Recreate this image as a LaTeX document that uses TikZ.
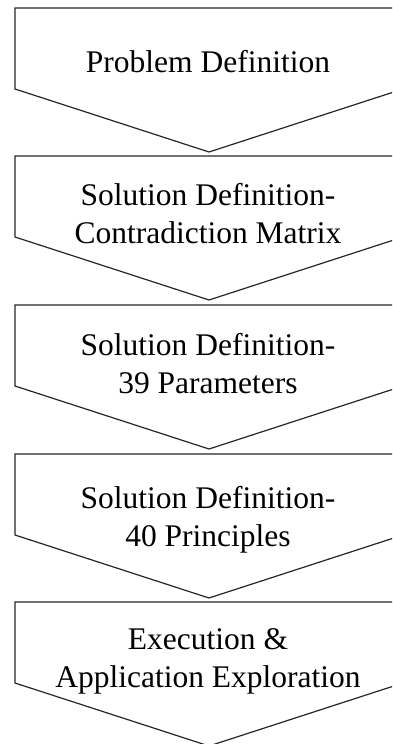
\documentclass[tikz,border=0pt]{standalone}
\usepackage{fontspec}
\setmainfont{Liberation Serif}
\usetikzlibrary{positioning}

\tikzset{
  chevron/.style={draw=black!85,line width=1.2pt,line join=miter},
  steptext/.style={font=\fontsize{31.5}{37.5}\selectfont,align=center,inner sep=0pt,anchor=base}
}

\begin{document}
\begin{tikzpicture}[x=1pt,y=-1pt]
  \clip (0,0) rectangle (392,744);
  % chevron outlines (right side runs off the page)
  \draw[chevron] (15,8) -- (403,8) -- (403,89) -- (209,152) -- (15,89) -- cycle;
  \draw[chevron] (15,156) -- (403,156) -- (403,237) -- (209,300) -- (15,237) -- cycle;
  \draw[chevron] (15,305) -- (403,305) -- (403,386) -- (209,449) -- (15,386) -- cycle;
  \draw[chevron] (15,454) -- (403,454) -- (403,535) -- (209,598) -- (15,535) -- cycle;
  \draw[chevron] (15,602) -- (403,602) -- (403,683) -- (209,746) -- (15,683) -- cycle;
  % step labels (base = last line)
  \node[steptext] (problem) at (208,72) {Problem Definition};
  \node[steptext] (matrix) at (208,243) {Solution Definition-\\Contradiction Matrix};
  \node[steptext] (params) at (208,393) {Solution Definition-\\39 Parameters};
  \node[steptext] (princ) at (208,546) {Solution Definition-\\40 Principles};
  \node[steptext] (exec) at (208,687) {Execution \&\\Application Exploration};
\end{tikzpicture}
\end{document}
